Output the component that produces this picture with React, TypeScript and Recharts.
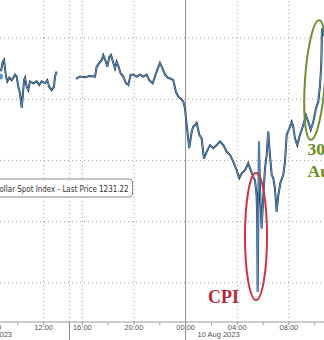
import React from "react";
import { LineChart, Line, XAxis, YAxis, ReferenceLine } from "recharts";

// trading hours since 08:00 on 9 Aug (the overnight break is compressed out)
const hours = [
  0.62, 0.83, 0.93, 1.08, 1.19, 1.34, 1.53, 1.65, 1.78, 1.91, 2.04, 2.17, 2.3, 2.38, 2.48, 2.56,
  2.69, 2.81, 2.94, 3.2, 3.46, 3.66, 3.85, 4.11, 4.28, 4.44, 4.62, 4.8, 4.88, 5.01, 5.5,
  6.51, 6.82, 7.2, 7.59, 7.98, 8.11, 8.31, 8.5, 8.62, 8.78, 8.93, 9.09, 9.22, 9.4, 9.53, 9.66,
  9.81, 9.97, 10.17, 10.38, 10.56, 10.74, 10.95, 11.21, 11.46, 11.72, 11.98, 12.18, 12.45, 12.63,
  12.8, 13.01, 13.22, 13.4, 13.66, 13.79, 14.04, 14.25, 14.43, 14.62, 14.82, 14.95, 15.08, 15.28,
  15.47, 15.59, 15.86, 16.06, 16.24, 16.42, 16.63, 16.89, 17.14, 17.41, 17.66, 17.92, 18.18, 18.44,
  18.69, 18.95, 19.16, 19.34, 19.6, 19.85, 20.04, 20.24, 20.37, 20.5, 20.55, 20.58, 20.63, 20.68,
  20.76, 20.89, 21.02, 21.15, 21.28, 21.4, 21.53, 21.67, 21.79, 21.92, 22.05, 22.18, 22.36, 22.56,
  22.7, 22.83, 23.03, 23.22, 23.34, 23.47, 23.65, 23.86, 24.12, 24.32, 24.5, 24.69, 24.89, 25.1,
  25.28, 25.41, 25.51, 25.56, 25.64, 25.72,
];
const prices = [
  1230.37, 1230.61, 1230.64, 1230.37, 1230.29, 1230.35, 1230.31, 1230.35, 1230.4, 1230.37, 1230.2,
  1230.1, 1229.86, 1230.04, 1230.31, 1230.35, 1230.2, 1230.15, 1230.29, 1230.26, 1230.29, 1230.23,
  1230.29, 1230.26, 1230.31, 1230.2, 1230.15, 1230.2, 1230.37, 1230.45, null,
  1230.33, 1230.37, 1230.36, 1230.38, 1230.37, 1230.53, 1230.59, 1230.64, 1230.72, 1230.64, 1230.53,
  1230.69, 1230.72, 1230.59, 1230.5, 1230.61, 1230.53, 1230.42, 1230.37, 1230.26, 1230.23, 1230.4,
  1230.4, 1230.37, 1230.4, 1230.37, 1230.4, 1230.31, 1230.26, 1230.37, 1230.48, 1230.59, 1230.5,
  1230.4, 1230.34, 1230.34, 1230.31, 1230.12, 1230.04, 1230.01, 1229.96, 1229.85, 1229.58, 1229.2,
  1229.47, 1229.55, 1229.61, 1229.42, 1229.36, 1229.03, 1229.14, 1229.25, 1229.2, 1229.25, 1229.31,
  1229.25, 1229.14, 1229.09, 1228.98, 1228.84, 1228.71, 1228.79, 1228.84, 1228.95, 1228.84, 1228.73,
  1228.68, 1228.43, 1228.0, 1226.85, 1228.11, 1229.31, 1228.54, 1227.89, 1228.43, 1228.87, 1229.09,
  1229.47, 1229.09, 1228.76, 1228.71, 1228.54, 1228.16, 1228.43, 1228.65, 1228.76, 1228.98, 1229.42,
  1229.52, 1229.63, 1229.55, 1229.36, 1229.25, 1229.42, 1229.58, 1229.74, 1229.63, 1229.5, 1229.63,
  1229.85, 1229.96, 1230.23, 1230.56, 1231.13, 1231.16, 1231.03,
];

const tickHours = [0, 2, 4, 6, 7, 9, 11, 13, 15, 17, 19, 21, 23, 25];
const tickLabels = ["08:00", "", "12:00", "", "16:00", "", "20:00", "", "00:00", "", "04:00", "", "08:00", ""];
const sessionBreaks = [6, 15];
const dottedHours = [4, 6, 7, 11, 19, 23];
const priceTicks = [1227, 1228, 1229, 1230, 1231];
const legendText = "Dollar Spot Index - Last Price 1231.22";

const data = hours.map((h, i) => ({ h, price: prices[i] }));

const AxisTick = (props: any) => {
  const { x, y, payload } = props;
  const label = tickLabels[tickHours.indexOf(payload.value)] || "";
  return (
    <g>
      {sessionBreaks.includes(payload.value) && (
        <line x1={x} x2={x} y1={y - 3} y2={y + 18} stroke="#8c8c8c" strokeWidth={1} />
      )}
      {label && (
        <text x={x} y={y} dy={4.5} textAnchor="middle" fontSize={7.5} fill="#555" fontFamily="Liberation Sans">
          {label}
        </text>
      )}
    </g>
  );
};

const App = () => (
  <div style={{ position: "absolute", left: 0, top: 0, width: 324, height: 340, overflow: "hidden", background: "#fff" }}>
    <div style={{ position: "absolute", left: -8, top: 0 }}>
      <LineChart width={332} height={340} data={data} margin={{ top: 0, right: 0, bottom: 0, left: 0 }}>
        <XAxis
          dataKey="h"
          type="number"
          domain={[0, 25.72]}
          allowDataOverflow
          ticks={tickHours}
          interval={0}
          height={18}
          tickSize={3}
          tickMargin={0}
          stroke="#9a9a9a"
          tick={<AxisTick />}
        />
        <YAxis hide type="number" domain={[1226.36, 1231.62]} allowDataOverflow ticks={priceTicks} />
        {priceTicks.map((p) => (
          <ReferenceLine key={p} y={p} stroke="#a0a0a0" strokeDasharray="1 3" />
        ))}
        {dottedHours.map((h) => (
          <ReferenceLine key={h} x={h} stroke="#a0a0a0" strokeDasharray="1 3" />
        ))}
        <ReferenceLine x={15} stroke="#8c8c8c" />
        <Line
          type="linear"
          dataKey="price"
          stroke="#22344a"
          strokeWidth={2}
          dot={false}
          isAnimationActive={false}
        />
        <Line
          type="linear"
          dataKey="price"
          stroke="#5a92c8"
          strokeWidth={1}
          dot={false}
          isAnimationActive={false}
        />
      </LineChart>
    </div>
    <svg width={324} height={340} style={{ position: "absolute", left: 0, top: 0, pointerEvents: "none" }}>
      <rect x={-20} y={179} width={152.5} height={18} rx={3} fill="#fff" stroke="#8a8a8a" strokeWidth={1} />
      <text
        x={-6}
        y={191.5}
        fontSize={8.2}
        fill="#333"
        fontFamily="DejaVu Sans"
        textLength={134.5}
        lengthAdjust="spacingAndGlyphs"
      >
        {legendText}
      </text>
      <text x={12} y={337} fontSize={7.5} fill="#555" fontFamily="Liberation Sans" textAnchor="end">
        9 Aug 2023
      </text>
      <text x={197.5} y={337} fontSize={7.5} fill="#555" fontFamily="Liberation Sans">
        10 Aug 2023
      </text>
      <ellipse cx={256} cy={236.5} rx={11} ry={63.5} fill="none" stroke="#cf3343" strokeWidth={2} />
      <text x={208} y={303} fontSize={18} fontWeight="bold" fill="#b8283a" fontFamily="Liberation Serif">
        CPI
      </text>
      <ellipse
        cx={315}
        cy={80}
        rx={10}
        ry={60}
        fill="none"
        stroke="#6e9030"
        strokeWidth={2}
        transform="rotate(4 315 80)"
      />
      <text x={307.5} y={155} fontSize={17.5} fontWeight="bold" fill="#6b8e23" fontFamily="Liberation Serif">
        30Y
      </text>
      <text x={307.5} y={176.5} fontSize={17.5} fontWeight="bold" fill="#6b8e23" fontFamily="Liberation Serif">
        Auction
      </text>
    </svg>
  </div>
);

export default App;
